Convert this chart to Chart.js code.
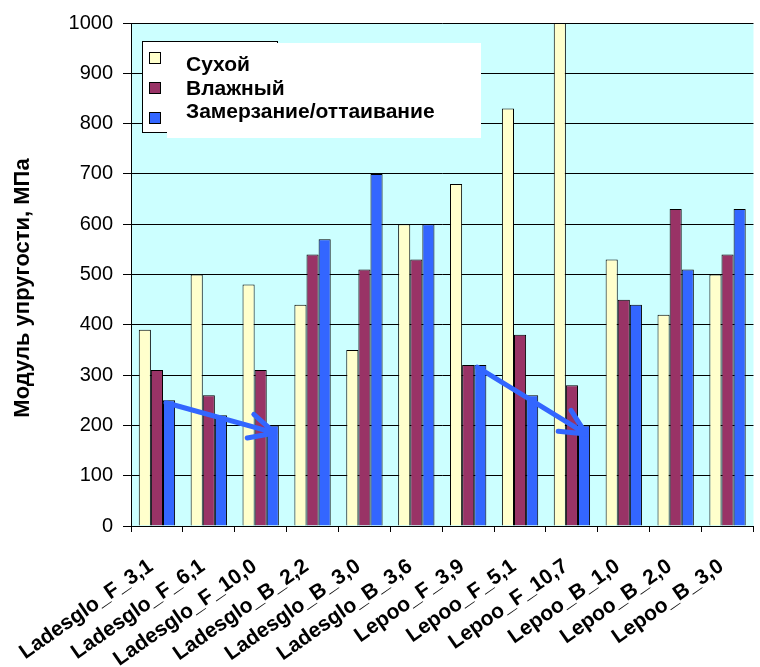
<!DOCTYPE html>
<html lang="ru">
<head>
<meta charset="utf-8">
<title>Модуль упругости</title>
<script src="https://cdn.jsdelivr.net/npm/chart.js@4.4.1/dist/chart.umd.min.js"></script>
<style>
  html, body { margin: 0; padding: 0; background: #ffffff; overflow: hidden; }
  canvas { display: block; }
</style>
</head>
<body>
<canvas id="chart" width="764" height="667"></canvas>
<script>
// Categories (samples) and modulus values, MPa
const categories = [
  'Ladesglo_F_3,1', 'Ladesglo_F_6,1', 'Ladesglo_F_10,0',
  'Ladesglo_B_2,2', 'Ladesglo_B_3,0', 'Ladesglo_B_3,6',
  'Lepoo_F_3,9', 'Lepoo_F_5,1', 'Lepoo_F_10,7',
  'Lepoo_B_1,0', 'Lepoo_B_2,0', 'Lepoo_B_3,0'
];
const seriesNames = ['Сухой', 'Влажный', 'Замерзание/оттаивание'];
const dryValues        = [390, 500, 480, 440, 350, 600, 680, 830, 1000, 530, 420, 500];
const wetValues        = [310, 260, 310, 540, 510, 530, 320, 380, 280, 450, 630, 540];
const freezeThawValues = [250, 220, 200, 570, 700, 600, 320, 260, 200, 440, 510, 630];
const yTicks = [0, 100, 200, 300, 400, 500, 600, 700, 800, 900, 1000];
const axisTitle = 'Модуль упругости, МПа';

// Trend arrows over the freeze/thaw series: [category index, value] pairs
const arrows = [
  { from: [0, 245], to: [2, 185] },
  { from: [6, 316], to: [8, 183] }
];

const seriesColors = ['#ffffcc', '#993366', '#3366ff'];
const FONT = "'Liberation Sans', Arial, sans-serif";

// Plot background, drawn under grid and bars
const plotBackground = {
  id: 'plotBackground',
  beforeDraw(chart) {
    const { ctx, chartArea: a } = chart;
    ctx.save();
    ctx.fillStyle = '#ffffff';
    ctx.fillRect(0, 0, chart.width, chart.height);
    ctx.fillStyle = '#ccffff';
    ctx.fillRect(a.left, a.top, a.right - a.left, a.bottom - a.top);
    ctx.restore();
  }
};

// Vertical axis title
const axisTitlePlugin = {
  id: 'axisTitlePlugin',
  afterDraw(chart) {
    const { ctx } = chart;
    ctx.save();
    ctx.translate(23, 288);
    ctx.rotate(-Math.PI / 2);
    ctx.font = 'bold 22px ' + FONT;
    ctx.fillStyle = '#000';
    ctx.textAlign = 'center';
    ctx.textBaseline = 'middle';
    ctx.fillText(axisTitle, 0, 0);
    ctx.restore();
  }
};

// Arrows anchored on the freeze/thaw bars
const arrowPlugin = {
  id: 'arrowPlugin',
  afterDatasetsDraw(chart) {
    const { ctx } = chart;
    const meta = chart.getDatasetMeta(2);
    const yScale = chart.scales.y;
    ctx.save();
    ctx.strokeStyle = '#3366ff';
    ctx.lineWidth = 5;
    ctx.lineCap = 'round';
    ctx.lineJoin = 'round';
    arrows.forEach(a => {
      const x1 = meta.data[a.from[0]].x - 3;
      const y1 = yScale.getPixelForValue(a.from[1]);
      const x2 = meta.data[a.to[0]].x + 2;
      const y2 = yScale.getPixelForValue(a.to[1]);
      const ang = Math.atan2(y2 - y1, x2 - x1);
      const head = 28, spread = 26 * Math.PI / 180;
      ctx.beginPath();
      ctx.moveTo(x1, y1);
      ctx.lineTo(x2, y2);
      ctx.moveTo(x2 - head * Math.cos(ang - spread), y2 - head * Math.sin(ang - spread));
      ctx.lineTo(x2, y2);
      ctx.lineTo(x2 - head * Math.cos(ang + spread), y2 - head * Math.sin(ang + spread));
      ctx.stroke();
    });
    ctx.restore();
  }
};

// Legend box with colour swatches
const legendPlugin = {
  id: 'legendPlugin',
  afterDraw(chart) {
    const { ctx } = chart;
    ctx.save();
    ctx.fillStyle = '#ffffff';
    ctx.fillRect(142, 41, 135, 91);
    ctx.strokeStyle = '#000';
    ctx.lineWidth = 1;
    ctx.strokeRect(142.5, 41.5, 135, 91);
    ctx.fillRect(167, 43, 314, 95);
    const swatchY = [52.5, 82.5, 112.5];
    const textY = [65, 89, 112];
    ctx.font = 'bold 21px ' + FONT;
    ctx.textBaseline = 'middle';
    ctx.textAlign = 'left';
    seriesNames.forEach((name, i) => {
      ctx.fillStyle = seriesColors[i];
      ctx.fillRect(149.5, swatchY[i], 11, 11);
      ctx.strokeStyle = '#000';
      ctx.strokeRect(149.5, swatchY[i], 11, 11);
      ctx.fillStyle = '#000';
      ctx.fillText(name, 186, textY[i]);
    });
    ctx.restore();
  }
};

const datasets = [dryValues, wetValues, freezeThawValues].map((values, i) => ({
  label: seriesNames[i],
  data: values,
  backgroundColor: seriesColors[i],
  borderColor: '#000000',
  borderWidth: 1,
  categoryPercentage: 0.70,
  barPercentage: 1.0
}));

new Chart(document.getElementById('chart'), {
  type: 'bar',
  data: { labels: categories, datasets },
  options: {
    responsive: false,
    animation: false,
    devicePixelRatio: 1,
    layout: { padding: { top: 23, left: 0, right: 0, bottom: 0 } },
    plugins: {
      legend: { display: false },
      tooltip: { enabled: false },
      title: { display: false }
    },
    scales: {
      x: {
        offset: true,
        grid: {
          display: true,
          drawOnChartArea: false,
          drawTicks: true,
          tickLength: 6,
          offset: true,
          color: '#000000'
        },
        border: { display: true, color: '#000000', width: 1 },
        ticks: {
          autoSkip: false,
          minRotation: 35,
          maxRotation: 35,
          labelOffset: -6,
          padding: 22,
          color: '#000000',
          font: { family: FONT, size: 21, weight: 'bold' }
        },
        afterFit(scale) { scale.height = 141; }
      },
      y: {
        min: 0,
        max: 1000,
        afterBuildTicks(scale) { scale.ticks = yTicks.map(v => ({ value: v })); },
        grid: {
          color: '#000000',
          lineWidth: 1,
          drawTicks: true,
          tickLength: 8
        },
        border: { display: true, color: '#000000', width: 1 },
        ticks: {
          padding: 10,
          color: '#000000',
          font: { family: FONT, size: 20 },
          callback: v => String(v)
        },
        afterFit(scale) { scale.width = 131; }
      }
    }
  },
  plugins: [plotBackground, arrowPlugin, legendPlugin, axisTitlePlugin]
});
</script>
</body>
</html>
